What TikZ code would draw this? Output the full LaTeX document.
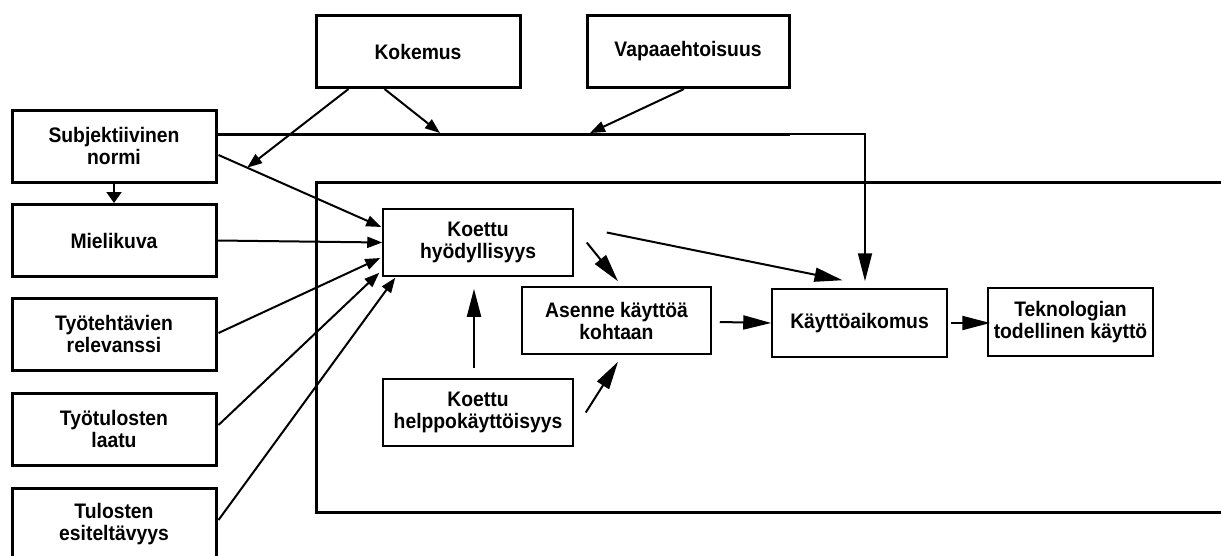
\documentclass[tikz,border=0pt]{standalone}
\usepackage{fontspec}
\setmainfont{Liberation Sans}[FakeStretch=0.92]
\usetikzlibrary{arrows.meta,calc}

\tikzset{
  lbl/.style={align=center, inner sep=0pt,
    font=\bfseries\fontsize{21}{22}\selectfont},
  outerbox/.style={lbl, draw, line width=3pt, minimum width=204pt, minimum height=72pt},
  innerbox/.style={lbl, draw, line width=1.5pt, minimum height=67pt},
  link/.style={line width=2pt},
  smallhead/.style={link, -{Triangle[length=15pt,width=11pt]}},
  bighead/.style={link, -{Triangle[length=28pt,width=14pt]}},
}

\begin{document}
\begin{tikzpicture}[x=1pt,y=-1pt]
\useasboundingbox (0,0) rectangle (1221,555);
\clip (0,0) rectangle (1221,555);

% outer factors
\node[outerbox] (kok)   at (418,51.5)  {Kokemus};
\node[outerbox, minimum width=202pt] (vap) at (688,51.5) {Vapaaehtoisuus};
\node[outerbox] (normi) at (114,146)   {Subjektiivinen\\normi};
\node[outerbox] (miel)  at (114,240.5) {Mielikuva};
\node[outerbox] (tyot)  at (114,334)   {Työtehtävien\\relevanssi};
\node[outerbox] (laatu) at (114,429)   {Työtulosten\\laatu};
\node[outerbox] (esit)  at (114,524)   {Tulosten\\esiteltävyys};

% frame around the core model, open to the right
\draw[line width=3pt] (1230,182) -- (316,182) -- (316,512) -- (1230,512);

% core model
\node[innerbox, minimum width=190pt] (hyod) at (478,242.5) {Koettu\\hyödyllisyys};
\node[innerbox, minimum width=190pt] (help) at (478,412.5) {Koettu\\helppokäyttöisyys};
\node[innerbox, minimum width=189pt] (asen) at (616.5,320.5) {Asenne käyttöä\\kohtaan};
\node[innerbox, minimum width=175pt, minimum height=68pt] (aik) at (859.5,323) {Käyttöaikomus};
\node[innerbox, minimum width=165pt, minimum height=68pt] (tek) at (1070.5,322) {Teknologian\\todellinen käyttö};

% subjective norm: direct path to intention
\coordinate (hstart) at ($(normi.east)+(0,-12)$);
\coordinate (split)  at (790,134);
\coordinate (corner) at (865,134);
\draw[link, line width=3pt] (hstart) -- (split);
\draw[bighead, line width=1.8pt] (split) -- (corner) -- ($(corner |- aik.north)+(0,-7)$);

% subjective norm -> usefulness, and image
\coordinate (nh1) at ($(normi.east)+(1,9)$);
\coordinate (nh2) at ($(hyod.west)+(-1,-15.5)$);
\draw[smallhead] (nh1) -- (nh2);
\draw[link, -{Triangle[length=11pt,width=15pt]}] (normi.south) -- (miel.north);
\draw[smallhead] (miel.east) -- (hyod.west);

% moderators
\coordinate (m1) at ($(nh1)!0.176!(nh2)$);
\coordinate (m2) at (440,133);
\coordinate (m3) at (590,133);
\draw[smallhead] ($(kok.south west)+(34,0)$) -- (m1);
\draw[smallhead] ($(kok.south west)+(70,0)$) -- (m2);
\draw[smallhead] ($(vap.south)+(-4,0)$) -- (m3);

% cognitive instrumental processes
\draw[smallhead] ($(tyot.east)+(1,-1)$) -- ($(hyod.west)+(-2,15.5)$);
\draw[smallhead] ($(laatu.east)+(1,-4)$) -- ($(hyod.south west)+(-3,-4)$);
\draw[smallhead] ($(esit.east)+(1,-4)$) -- ($(hyod.south west)+(13,1)$);

% core relations
\draw[bighead] ($(help.north)+(-4,-10)$) -- ($(hyod.south)+(-4,12)$);
\draw[bighead] ($(hyod.east)+(13,0)$) -- ($(asen.north)+(1.5,-5)$);
\draw[bighead] ($(help.east)+(12,0)$) -- ($(asen.south)+(1.5,7)$);
\draw[bighead] ($(hyod.east)+(33,-10)$) -- ($(aik.north)+(-17,-8)$);
\draw[bighead] ($(asen.east)+(8,1.5)$) -- (aik.west);
\draw[bighead] ($(aik.east)+(3,0)$) -- ($(tek.west)+(3,1)$);
\end{tikzpicture}
\end{document}
